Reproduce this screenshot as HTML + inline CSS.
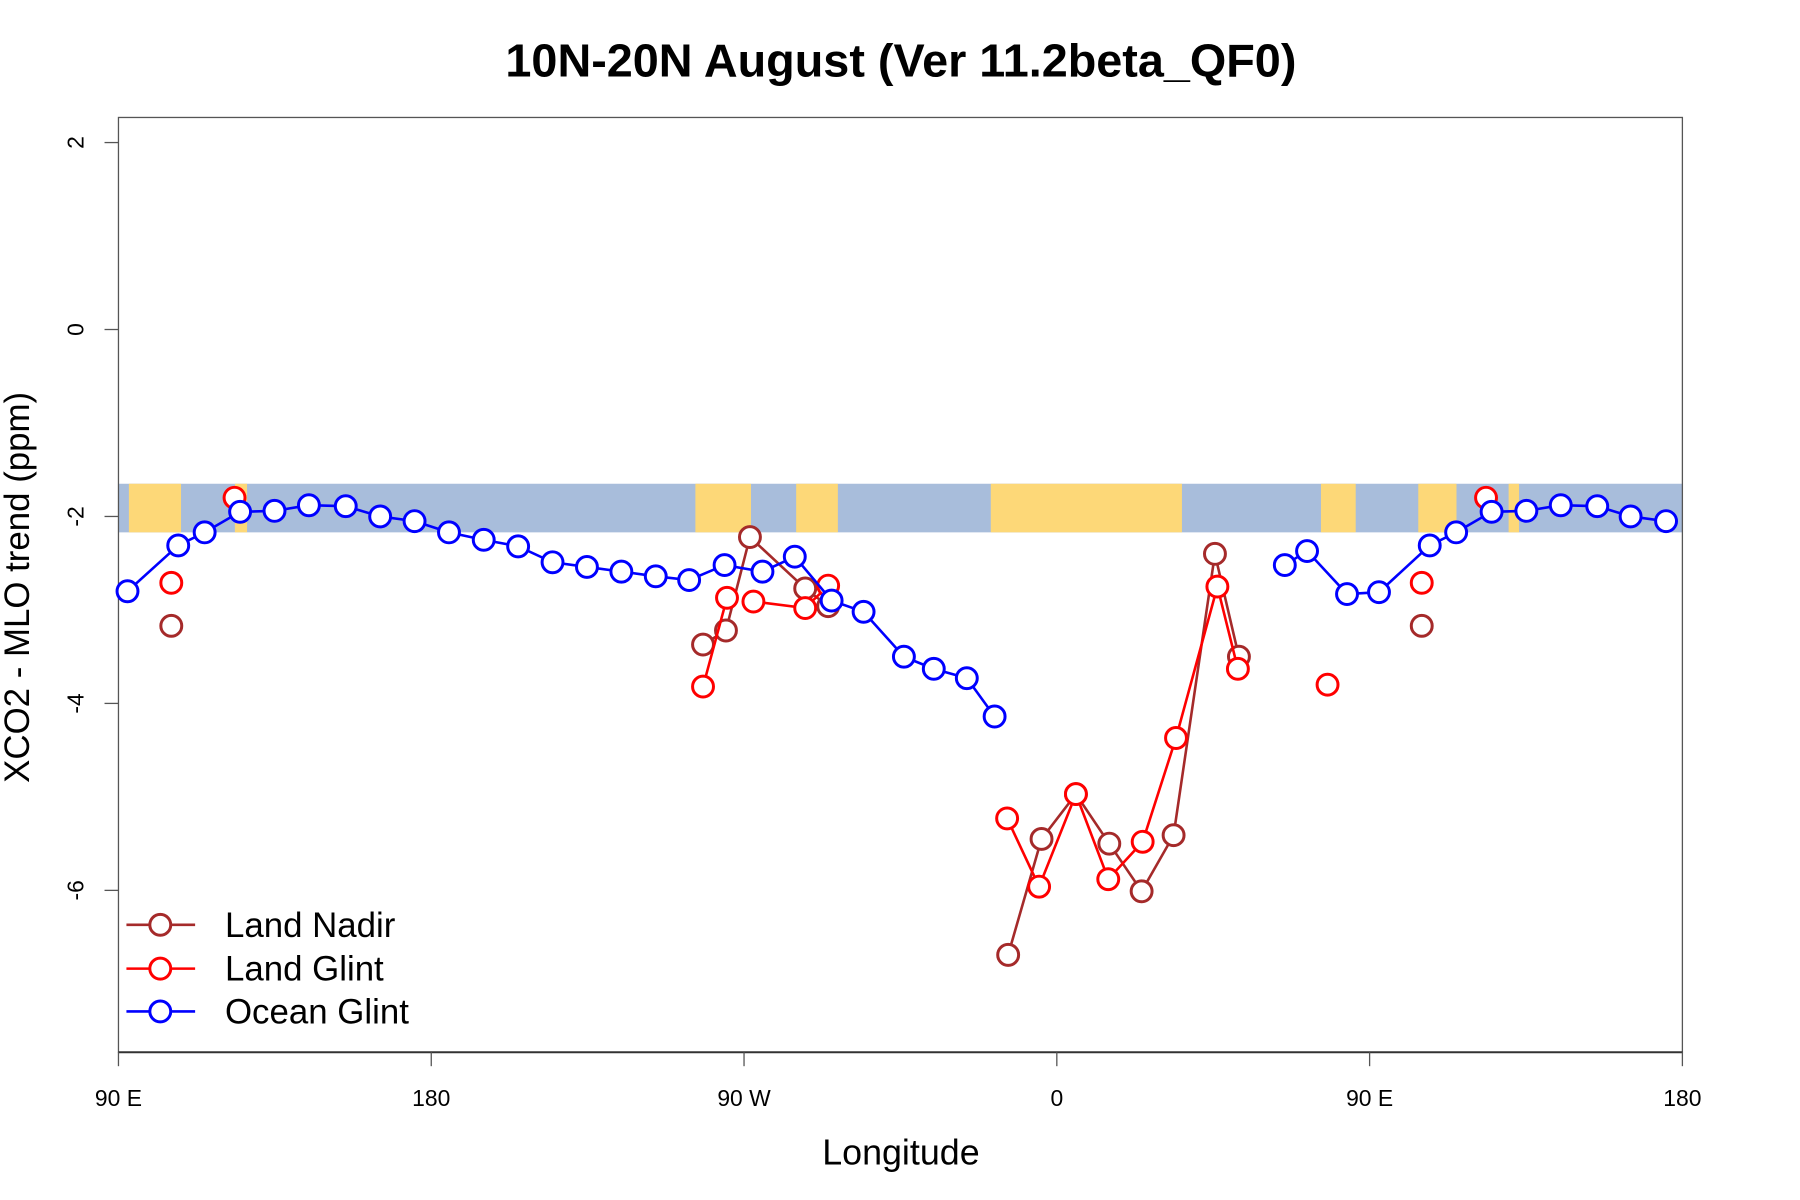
<!DOCTYPE html>
<html><head><meta charset="utf-8"><style>
html,body{margin:0;padding:0;background:#fff}
svg{display:block;font-family:"Liberation Sans",sans-serif}
</style></head><body>
<svg id="chart" width="1800" height="1200" viewBox="0 0 1800 1200">
<g transform="scale(0.9955)">
<text x="905" y="77" text-anchor="middle" font-size="47" font-weight="bold">10N-20N August (Ver 11.2beta_QF0)</text>
<text x="905" y="1170" text-anchor="middle" font-size="36">Longitude</text>
<text transform="translate(29,590) rotate(-90)" text-anchor="middle" font-size="35">XCO2 - MLO trend (ppm)</text>
<g id="band"></g>
<g id="axes"></g>
<g id="series"></g>
<g id="legend"></g>
</g>
</svg>
<script>
// data (x = longitude on 90..540 continuous scale; 90E, 180, 90W=270, 0=360, 90E=450, 180=540)
const xTicks = [90, 180, 270, 360, 450, 540];
const xTickLabels = ["90 E", "180", "90 W", "0", "90 E", "180"];
const yTicks = [2, 0, -2, -4, -6];
const oceanLon = [92.6,107.2,114.8,125.0,134.9,144.8,155.4,165.3,175.2,185.1,195.1,205.0,214.9,224.8,234.7,244.6,254.2,264.4,275.3,284.6,295.2,304.4,316.0,324.6,334.1,342.1,null,425.6,432.0,443.5,452.7,467.3,474.9,485.1,495.1,505.0,515.5,525.1,535.3];
const oceanVal = [-2.80,-2.31,-2.17,-1.95,-1.94,-1.88,-1.89,-2.00,-2.05,-2.17,-2.25,-2.32,-2.49,-2.54,-2.59,-2.64,-2.68,-2.52,-2.59,-2.43,-2.90,-3.02,-3.50,-3.63,-3.73,-4.14,null,-2.52,-2.37,-2.83,-2.81,-2.31,-2.17,-1.95,-1.94,-1.88,-1.89,-2.00,-2.05];
const glintLon = [105.2,null,123.4,null,258.2,265.1,null,272.7,287.6,294.2,null,345.7,354.9,365.5,374.8,384.7,394.3,406.2,412.1,null,437.9,null,465.0,null,483.5];
const glintVal = [-2.71,null,-1.80,null,-3.82,-2.87,null,-2.91,-2.98,-2.74,null,-5.23,-5.96,-4.97,-5.88,-5.48,-4.37,-2.75,-3.63,null,-3.80,null,-2.71,null,-1.80];
const nadirLon = [105.2,null,258.2,264.8,271.7,287.6,294.2,null,346.0,355.6,365.5,375.1,384.4,393.6,405.5,412.4,null,465.0];
const nadirVal = [-3.17,null,-3.37,-3.22,-2.22,-2.77,-2.96,null,-6.69,-5.45,-4.97,-5.50,-6.01,-5.41,-2.40,-3.50,null,-3.17];
const bandTop = -1.65, bandBottom = -2.17;
const landStart = [93,123.5,256,285,341,436,464,490];
const landEnd = [108,127,272,297,396,446,475,493];

const NS="http://www.w3.org/2000/svg";
const L=119,R=1690,T=118,B=1057;
const xs=v=>L+(v-90)*(R-L)/450;
const ys=v=>331-v*93.9;
function el(tag,attrs,parent){const e=document.createElementNS(NS,tag);for(const k in attrs)e.setAttribute(k,attrs[k]);parent.appendChild(e);return e;}
const band=document.getElementById('band');
const b1=el('rect',{x:L,y:ys(bandTop),width:R-L,height:ys(bandBottom)-ys(bandTop),fill:'#a8bddb'},band);


for(let i=0;i<landStart.length;i++){
  const r=el('rect',{x:xs(landStart[i]),y:ys(bandTop),width:xs(landEnd[i])-xs(landStart[i]),height:ys(bandBottom)-ys(bandTop),fill:'#fdd878'},band);
  
  
}
const axes=document.getElementById('axes');
const box=el('rect',{x:L,y:T,width:R-L,height:B-T,fill:'none',stroke:'#555','stroke-width':1.3},axes);


el('line',{x1:L,y1:B,x2:R,y2:B,stroke:'#333','stroke-width':2},axes);
xTicks.forEach((t,i)=>{
  el('line',{x1:xs(t),y1:B,x2:xs(t),y2:B+14,stroke:'#555','stroke-width':1.3},axes);
  const tx=el('text',{x:xs(t),y:1111,'text-anchor':'middle','font-size':23},axes);
  tx.textContent=xTickLabels[i];
  
  
});
yTicks.forEach(t=>{
  el('line',{x1:L,y1:ys(t),x2:L-14,y2:ys(t),stroke:'#555','stroke-width':1.3},axes);
  const tx=el('text',{transform:`translate(84,${ys(t)}) rotate(-90)`,'text-anchor':'middle','font-size':23},axes);
  tx.textContent=String(t);
  
  
});
const series=document.getElementById('series');
function draw(lons,vals,color,name){
  const g=el('g',{},series);
  
  
  let d='',pen=false;
  for(let i=0;i<lons.length;i++){
    if(lons[i]===null){pen=false;continue;}
    d+=(pen?'L':'M')+xs(lons[i]).toFixed(1)+' '+ys(vals[i]).toFixed(1)+' ';pen=true;
  }
  el('path',{d:d,fill:'none',stroke:color,'stroke-width':2.6},g);
  for(let i=0;i<lons.length;i++){
    if(lons[i]===null)continue;
    const c=el('circle',{cx:xs(lons[i]),cy:ys(vals[i]),r:10.5,fill:'#fff',stroke:color,'stroke-width':3},g);
    
    
  }
}
draw(nadirLon,nadirVal,'#a52a2a','land-nadir');
draw(glintLon,glintVal,'#ff0000','land-glint');
draw(oceanLon,oceanVal,'#0000ff','ocean-glint');
const leg=document.getElementById('legend');
[['Land Nadir','#a52a2a',929],['Land Glint','#ff0000',973],['Ocean Glint','#0000ff',1016]].forEach(([t,c,y])=>{
  const g=el('g',{},leg);
  
  
  el('line',{x1:127,y1:y,x2:196,y2:y,stroke:c,'stroke-width':2.6},g);
  el('circle',{cx:161,cy:y,r:10.5,fill:'#fff',stroke:c,'stroke-width':3},g);
  const tx=el('text',{x:226,y:y+12,'font-size':35},g);
  tx.textContent=t;
});
</script>
</body></html>
